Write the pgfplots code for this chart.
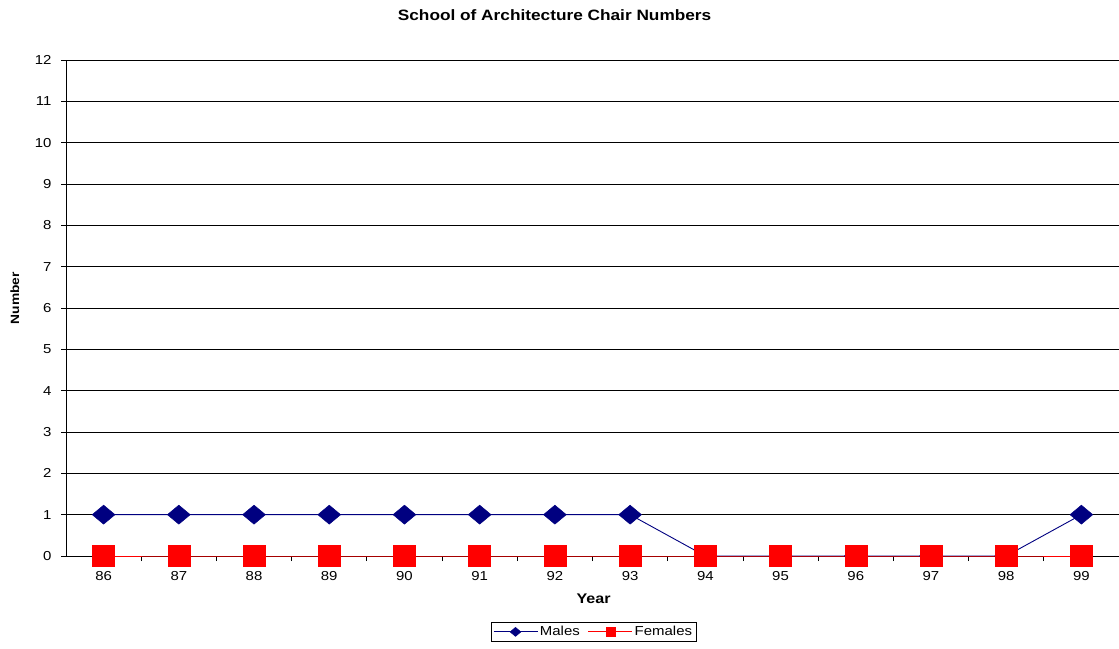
\documentclass[border=0pt]{standalone}
\usepackage{fontspec}
\setmainfont{Liberation Sans}[FakeStretch=1.15]
\usepackage{pgfplots}
\pgfplotsset{compat=1.18}
\definecolor{navy}{RGB}{0,0,128}
\definecolor{myred}{RGB}{255,0,0}
\begin{document}
\begin{tikzpicture}[x=1pt,y=1pt]
\useasboundingbox (0,0) rectangle (1119,648);
\begin{axis}[
  at={(66pt,92pt)}, anchor=south west,
  scale only axis, width=1053pt, height=496pt,
  xmin=85.5, xmax=99.5, ymin=0, ymax=12,
  axis lines*=left,
  axis line style={line width=1pt},
  xtick={86,...,99},
  minor xtick={86.5,87.5,...,98.5},
  major x tick style={draw=none},
  minor x tick style={line width=0.8pt,black},
  minor tick length=5pt,
  ytick={0,...,12},
  major y tick style={line width=0.8pt,black},
  major tick length=5pt,
  tick align=outside,
  ymajorgrids,
  grid style={black,line width=0.8pt},
  /pgf/number format/assume math mode=true,
  tick label style={font=\fontsize{13}{15}\selectfont},
  yticklabel style={xshift=-6pt},
  xticklabel style={yshift=-7pt},
  xlabel={Year},
  xlabel style={font=\bfseries\fontsize{14}{16}\selectfont, at={(rel axis cs:0.501,0)}, anchor=center, yshift=-43pt},
  ylabel={Number},
  ylabel style={font=\bfseries\fontsize{12}{14}\selectfont, at={(rel axis cs:-0.0485,0.52)}, anchor=center},
  title={School of Architecture Chair Numbers},
  title style={font=\bfseries\fontsize{15}{17}\selectfont, at={(rel axis cs:0.464,1)}, anchor=center, yshift=39pt},
  legend columns=2,
  legend style={at={(rel axis cs:0.501,-0.153)}, anchor=center, draw=black, line width=0.8pt,
     font=\fontsize{13}{15}\selectfont, inner sep=2pt, row sep=0pt,
     /tikz/every even column/.append style={column sep=6pt}},
  legend image code/.code={\draw[#1, mark repeat=2, mark phase=2] plot coordinates {(0pt,0pt) (22pt,0pt) (44pt,0pt)};},
  clip=false,
]
\addplot[navy, line width=0.9pt, mark=diamond*, mark size=9.5pt, mark options={xscale=1.6, solid, fill=navy, draw=navy, line width=0.5pt},
  legend image post style={mark size=4.5pt}]
  coordinates {(86,1) (87,1) (88,1) (89,1) (90,1) (91,1) (92,1) (93,1) (94,0) (95,0) (96,0) (97,0) (98,0) (99,1)};
\addlegendentry{Males}
\addplot[myred, line width=0.9pt, mark=square*, mark size=11pt, mark options={yscale=0.95, solid, fill=myred, draw=myred, line width=0.5pt},
  legend image post style={mark size=4.5pt}]
  coordinates {(86,0) (87,0) (88,0) (89,0) (90,0) (91,0) (92,0) (93,0) (94,0) (95,0) (96,0) (97,0) (98,0) (99,0)};
\addlegendentry{Females}
\end{axis}
\end{tikzpicture}
\end{document}
